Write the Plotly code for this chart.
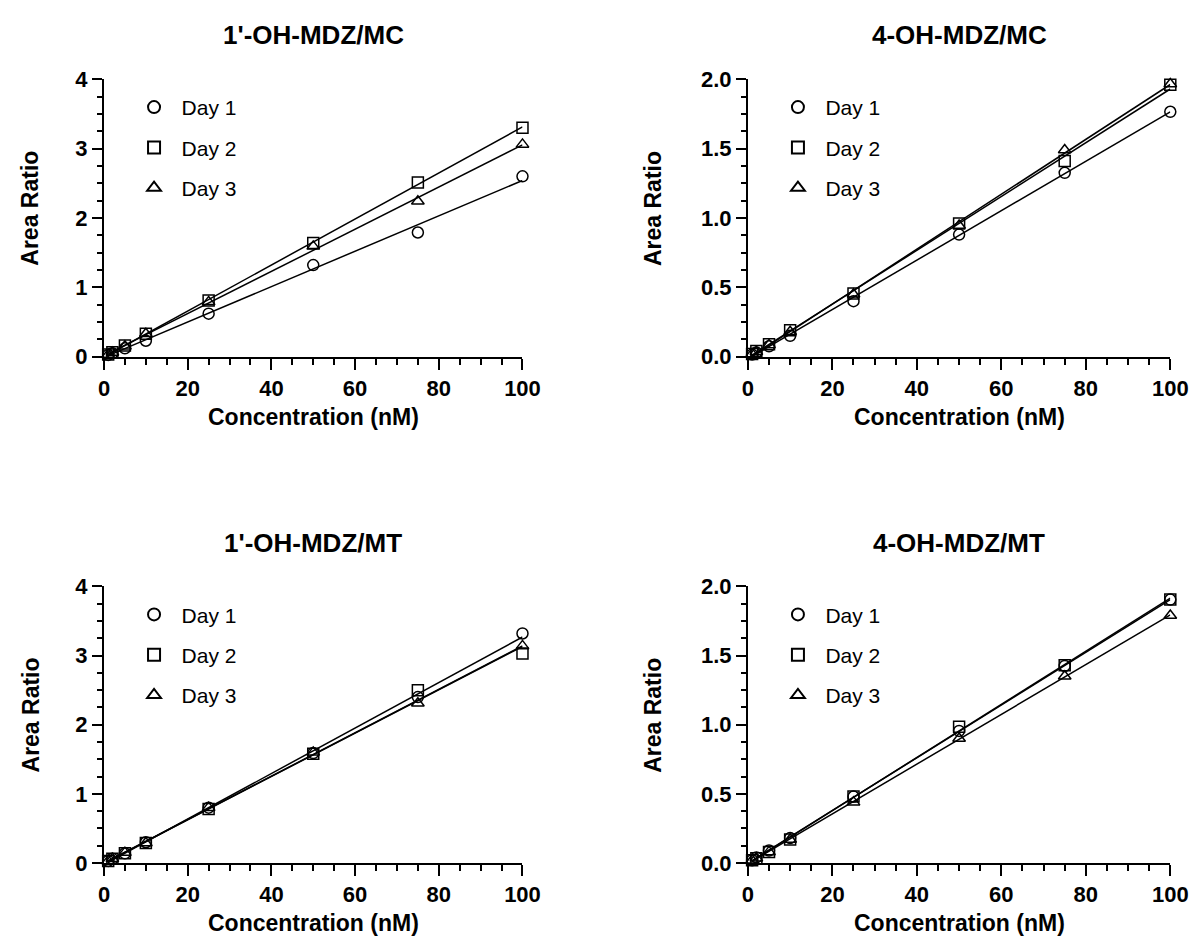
import numpy as np
import plotly.graph_objects as go

W, H = 1203, 949

conc = [1, 2, 5, 10, 25, 50, 75, 100]
days = ["Day 1", "Day 2", "Day 3"]

titles = ["1'-OH-MDZ/MC", "4-OH-MDZ/MC", "1'-OH-MDZ/MT", "4-OH-MDZ/MT"]

mc1_day1 = [0.025, 0.05, 0.12, 0.23, 0.62, 1.32, 1.79, 2.60]
mc1_day2 = [0.03, 0.065, 0.16, 0.33, 0.81, 1.64, 2.51, 3.30]
mc1_day3 = [0.03, 0.06, 0.15, 0.33, 0.79, 1.59, 2.24, 3.06]

mc4_day1 = [0.015, 0.03, 0.075, 0.15, 0.40, 0.88, 1.325, 1.765]
mc4_day2 = [0.02, 0.04, 0.09, 0.19, 0.455, 0.96, 1.41, 1.96]
mc4_day3 = [0.02, 0.035, 0.085, 0.18, 0.45, 0.945, 1.49, 1.965]

mt1_day1 = [0.03, 0.06, 0.14, 0.30, 0.80, 1.59, 2.40, 3.32]
mt1_day2 = [0.03, 0.06, 0.14, 0.29, 0.78, 1.58, 2.50, 3.03]
mt1_day3 = [0.03, 0.06, 0.15, 0.29, 0.80, 1.60, 2.31, 3.14]

mt4_day1 = [0.02, 0.04, 0.09, 0.18, 0.48, 0.955, 1.425, 1.905]
mt4_day2 = [0.02, 0.035, 0.08, 0.17, 0.48, 0.985, 1.43, 1.905]
mt4_day3 = [0.02, 0.035, 0.08, 0.17, 0.44, 0.90, 1.35, 1.79]

panels = [
    [mc1_day1, mc1_day2, mc1_day3],
    [mc4_day1, mc4_day2, mc4_day3],
    [mt1_day1, mt1_day2, mt1_day3],
    [mt4_day1, mt4_day2, mt4_day3],
]

symbols = ["circle-open", "square-open", "triangle-up-open"]
FONT = "Arial, Liberation Sans, sans-serif"

def px_x(p):
    return p / W

def px_y(p):
    return 1 - p / H

# panel geometry in pixels: (x0, x1, ytop, ybottom)
geo = [
    (100, 527, 69, 354),
    (757, 1188, 69, 354),
    (100, 527, 590, 874),
    (757, 1188, 590, 874),
]
yranges = [4, 2, 4, 2]

fig = go.Figure()
layout = dict(
    width=W, height=H, margin=dict(l=0, r=0, t=0, b=0),
    plot_bgcolor="white", paper_bgcolor="white",
    font=dict(family=FONT, color="black"),
    showlegend=True,
)
annotations = []

for i, series in enumerate(panels):
    k = "" if i == 0 else str(i + 1)
    xa, ya = "x" + k, "y" + k
    leg = "legend" + k
    x0, x1, yt, yb = geo[i]
    for j, vals in enumerate(series):
        fig.add_trace(go.Scatter(
            x=conc, y=vals, mode="markers", name=days[j],
            marker=dict(symbol=symbols[j], size=11, color="black",
                        line=dict(width=1.5, color="black")),
            xaxis=xa, yaxis=ya, legend=leg, legendgroup=f"p{i}d{j}",
            cliponaxis=False,
        ))
        slope, icpt = np.polyfit(conc, vals, 1)
        xs = np.array([min(conc), max(conc)])
        fig.add_trace(go.Scatter(
            x=xs, y=slope * xs + icpt, mode="lines",
            line=dict(color="black", width=1.5),
            xaxis=xa, yaxis=ya, showlegend=False, hoverinfo="skip",
            cliponaxis=False,
        ))
    yr = yranges[i]
    layout["xaxis" + k] = dict(
        domain=[px_x(x0), px_x(x1)], anchor=ya, range=[0, 100],
        showgrid=False, zeroline=False, showline=True, linecolor="black",
        linewidth=2, ticks="outside", ticklen=11, tickwidth=2,
        tickcolor="black", dtick=20, tick0=0,
        tickfont=dict(family=FONT, size=22, weight="bold", color="black"),
        minor=dict(ticks="outside", dtick=5, ticklen=6, tickwidth=2,
                   tickcolor="black", showgrid=False),
    )
    layout["yaxis" + k] = dict(
        domain=[px_y(yb), px_y(yt)], anchor=xa, range=[0, yr],
        showgrid=False, zeroline=False, showline=True, linecolor="black",
        linewidth=2, ticks="outside", ticklen=10, tickwidth=2,
        tickcolor="black", dtick=1 if yr == 4 else 0.5, tick0=0,
        tickformat="d" if yr == 4 else ".1f",
        tickfont=dict(family=FONT, size=22, weight="bold", color="black"),
        minor=dict(ticks="outside", dtick=0.25 if yr == 4 else 0.125,
                   ticklen=5, tickwidth=2, tickcolor="black", showgrid=False),
    )
    legx = x0 + 23
    layout[leg] = dict(
        x=px_x(legx), y=px_y(yt + 8), xanchor="left", yanchor="top",
        bgcolor="rgba(0,0,0,0)", borderwidth=0,
        font=dict(family=FONT, size=21, color="black"),
        tracegroupgap=10, itemwidth=45, itemsizing="constant",
    )
    cx = (x0 + x1) / 2
    annotations.append(dict(
        text=titles[i], x=px_x(cx), y=px_y(yt - 45),
        xref="paper", yref="paper", showarrow=False,
        font=dict(family=FONT, size=26, weight="bold", color="black"),
        xanchor="center", yanchor="middle",
    ))
    annotations.append(dict(
        text="Area Ratio", x=px_x(x0 - 75 if i % 2 == 0 else x0 - 97),
        y=px_y((yt + yb) / 2 - 10), xref="paper", yref="paper",
        showarrow=False, textangle=-90,
        font=dict(family=FONT, size=23, weight="bold", color="black"),
        xanchor="center", yanchor="middle",
    ))
    annotations.append(dict(
        text="Concentration (nM)", x=px_x(cx), y=px_y(yb + 62),
        xref="paper", yref="paper", showarrow=False,
        font=dict(family=FONT, size=23, weight="bold", color="black"),
        xanchor="center", yanchor="middle",
    ))

layout["annotations"] = annotations
fig.update_layout(**layout)
fig.write_html("out.html")
